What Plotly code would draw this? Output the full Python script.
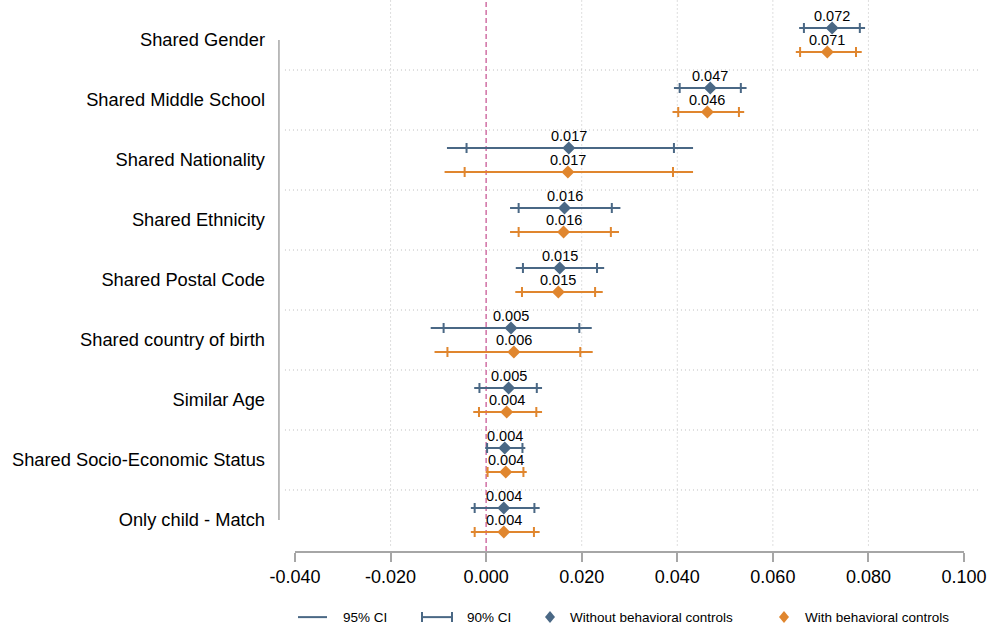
import plotly.graph_objects as go

# Coefficient estimates with 95% and 90% confidence intervals
categories = [
    "Shared Gender",
    "Shared Middle School",
    "Shared Nationality",
    "Shared Ethnicity",
    "Shared Postal Code",
    "Shared country of birth",
    "Similar Age",
    "Shared Socio-Economic Status",
    "Only child - Match",
]

# Without behavioral controls
coef_wo = [0.0724, 0.0469, 0.0173, 0.0164, 0.0154, 0.0052, 0.0047, 0.0039, 0.0037]
lo95_wo = [0.0655, 0.0393, -0.0082, 0.0050, 0.0062, -0.0116, -0.0025, -0.0002, -0.0032]
hi95_wo = [0.0793, 0.0545, 0.0433, 0.0281, 0.0247, 0.0221, 0.0117, 0.0082, 0.0112]
lo90_wo = [0.0665, 0.0405, -0.0041, 0.0068, 0.0077, -0.0089, -0.0014, 0.0002, -0.0024]
hi90_wo = [0.0782, 0.0533, 0.0393, 0.0263, 0.0232, 0.0195, 0.0106, 0.0076, 0.0101]

# With behavioral controls
coef_w = [0.0714, 0.0463, 0.0171, 0.0162, 0.0151, 0.0058, 0.0043, 0.0041, 0.0037]
lo95_w = [0.0648, 0.0390, -0.0087, 0.0050, 0.0061, -0.0108, -0.0027, -0.0001, -0.0032]
hi95_w = [0.0786, 0.0540, 0.0433, 0.0278, 0.0244, 0.0223, 0.0117, 0.0085, 0.0112]
lo90_w = [0.0657, 0.0402, -0.0045, 0.0068, 0.0075, -0.0081, -0.0015, 0.0003, -0.0024]
hi90_w = [0.0774, 0.0529, 0.0391, 0.0261, 0.0228, 0.0197, 0.0105, 0.0078, 0.0100]

x_ticks = [-0.04, -0.02, 0.0, 0.02, 0.04, 0.06, 0.08, 0.10]

BLUE = "#4a6885"
ORANGE = "#e0862e"
PINK = "#d070a4"
AXIS_GRAY = "#a6a6a6"
GRID_GRAY = "#bdbdbd"
DOTS = "1px,3px"
FONT = "Liberation Sans, Arial, Helvetica, sans-serif"

fig = go.Figure()
annotations = []


def add_series(coef, lo95, hi95, lo90, hi90, offset, color):
    ys = [i + offset for i in range(len(coef))]
    # 95% interval: plain line
    lx, ly = [], []
    for lo, hi, y in zip(lo95, hi95, ys):
        lx += [lo, hi, None]
        ly += [y, y, None]
    fig.add_trace(go.Scatter(
        x=lx, y=ly, mode="lines", line=dict(color=color, width=2),
        showlegend=False, hoverinfo="skip", cliponaxis=False,
    ))
    # 90% interval: capped error bar around the point estimate
    fig.add_trace(go.Scatter(
        x=coef, y=ys, mode="markers",
        marker=dict(symbol="diamond", size=10, color=color),
        error_x=dict(
            type="data", symmetric=False,
            array=[h - c for h, c in zip(hi90, coef)],
            arrayminus=[c - l for l, c in zip(lo90, coef)],
            color=color, thickness=2, width=5,
        ),
        showlegend=False, cliponaxis=False,
    ))
    # point estimate labels above each marker
    for c, y in zip(coef, ys):
        annotations.append(dict(
            x=c, y=y, xref="x", yref="y", text=f"{c:.3f}",
            showarrow=False, yshift=12, xanchor="center", yanchor="middle",
            font=dict(size=14.5, color="black", family=FONT),
        ))


add_series(coef_wo, lo95_wo, hi95_wo, lo90_wo, hi90_wo, -0.2, BLUE)
add_series(coef_w, lo95_w, hi95_w, lo90_w, hi90_w, 0.2, ORANGE)

shapes = []
# horizontal dotted separators between categories
for k in range(len(categories) - 1):
    shapes.append(dict(
        type="line", xref="paper", yref="y", x0=-0.015, x1=1.0224,
        y0=k + 0.5, y1=k + 0.5,
        line=dict(color=GRID_GRAY, width=1, dash=DOTS), layer="below",
    ))
# vertical dotted gridlines
for xv in [-0.02, 0.02, 0.04, 0.06, 0.08]:
    shapes.append(dict(
        type="line", xref="x", yref="paper", x0=xv, x1=xv, y0=0.01, y1=1,
        line=dict(color=GRID_GRAY, width=1, dash=DOTS), layer="below",
    ))
# reference line at zero
shapes.append(dict(
    type="line", xref="x", yref="paper", x0=0, x1=0, y0=0, y1=1,
    line=dict(color=PINK, width=1.5, dash="5px,3px"), layer="below",
))
# category axis line spanning first to last category
shapes.append(dict(
    type="line", xref="paper", yref="y", x0=-0.024, x1=-0.024,
    y0=0, y1=len(categories) - 1,
    line=dict(color=AXIS_GRAY, width=1.5),
))

# legend keys
LEG_Y = -0.12
PLOT_W = 669.0


def px(xpix):
    return (xpix - 295) / PLOT_W


shapes.append(dict(type="line", xref="paper", yref="paper",
                   x0=px(298), x1=px(327), y0=LEG_Y, y1=LEG_Y,
                   line=dict(color=BLUE, width=2)))
shapes.append(dict(type="line", xref="paper", yref="paper",
                   x0=px(422), x1=px(452), y0=LEG_Y, y1=LEG_Y,
                   line=dict(color=BLUE, width=2)))
for cx in (422, 452):
    shapes.append(dict(type="line", xref="paper", yref="paper",
                       xsizemode="pixel", ysizemode="pixel",
                       xanchor=px(cx), yanchor=LEG_Y,
                       x0=0, x1=0, y0=-5, y1=5,
                       line=dict(color=BLUE, width=2)))
for cx, col in ((550, BLUE), (784, ORANGE)):
    shapes.append(dict(type="path", xref="paper", yref="paper",
                       xsizemode="pixel", ysizemode="pixel",
                       xanchor=px(cx), yanchor=LEG_Y,
                       path="M 0 6 L 5 0 L 0 -6 L -5 0 Z",
                       fillcolor=col, line=dict(color=col, width=0)))

for xpix, label in ((341, "95% CI"), (465, "90% CI"),
                    (568, "Without behavioral controls"),
                    (803, "With behavioral controls")):
    annotations.append(dict(
        x=px(xpix), y=LEG_Y, xref="paper", yref="paper",
        text=label, showarrow=False, xanchor="left", yanchor="middle",
        font=dict(size=13.5, color="black", family=FONT),
    ))

fig.update_layout(
    width=990, height=628,
    margin=dict(l=295, r=26, t=0, b=77),
    plot_bgcolor="white", paper_bgcolor="white",
    font=dict(family=FONT, color="black"),
    shapes=shapes, annotations=annotations,
    showlegend=False,
    xaxis=dict(
        range=[-0.04, 0.10],
        tickvals=x_ticks,
        ticktext=[f"{v:.3f}" for v in x_ticks],
        showgrid=False, zeroline=False,
        showline=True, linecolor=AXIS_GRAY, linewidth=1.5,
        ticks="outside", ticklen=9, tickwidth=1.5, tickcolor=AXIS_GRAY,
        tickfont=dict(size=18, color="black"),
    ),
    yaxis=dict(
        range=[8.517, -0.667],
        tickvals=list(range(len(categories))),
        ticktext=categories,
        showgrid=False, zeroline=False, showline=False,
        ticks="", ticklabelstandoff=29,
        tickfont=dict(size=18.3, color="black"),
    ),
)

fig.write_html("out.html")
